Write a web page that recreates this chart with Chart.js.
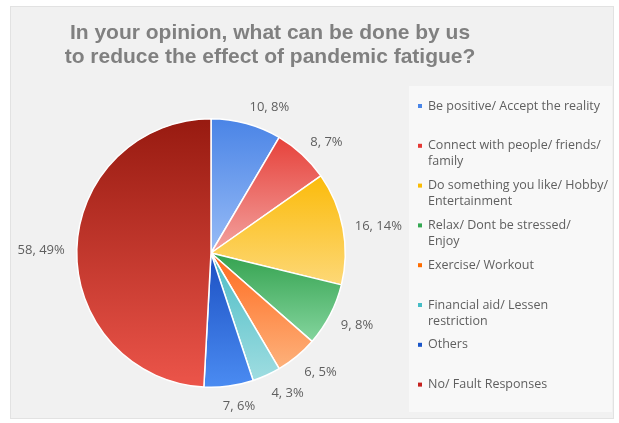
<!DOCTYPE html>
<html>
<head>
<meta charset="utf-8">
<script src="https://cdn.jsdelivr.net/npm/chart.js@4"></script>
<style>
  html, body { margin: 0; padding: 0; background: #fff; }
  #wrap { position: relative; width: 619px; height: 423px; }
</style>
</head>
<body>
<div id="wrap"><canvas id="pie"></canvas></div>
<script>
// ── Data ───────────────────────────────────────────────
const titleLines = [
  'In your opinion, what can be done by us',
  'to reduce the effect of pandemic fatigue?',
];

const categories = [
  ['Be positive/ Accept the reality'],
  ['Connect with people/ friends/', 'family'],
  ['Do something you like/ Hobby/', 'Entertainment'],
  ['Relax/ Dont be stressed/', 'Enjoy'],
  ['Exercise/ Workout'],
  ['Financial aid/ Lessen', 'restriction'],
  ['Others'],
  ['No/ Fault Responses'],
];

const counts = [10, 8, 16, 9, 6, 4, 7, 58];

// gradient ends for each slice (top → bottom)
const topColors    = ['#4a84e6', '#e6413a', '#fbbb0a', '#34a24f', '#ff6a1e', '#4bbcc5', '#1b4fc2', '#971a10'];
const bottomColors = ['#98bcf6', '#f3a3a0', '#fdd877', '#84d59e', '#fdb27c', '#9fdde1', '#4b8cf2', '#ec554a'];
const markerColors = ['#4a86e8', '#e53935', '#fbbc04', '#34a853', '#ff6d01', '#46bdc6', '#1a56c9', '#c5221f'];

const TITLE_FONT = '"Liberation Sans", Arial, sans-serif';
const BODY_FONT = '"Open Sans", "Liberation Sans", Arial, sans-serif';
const TEXT_GREY = '#5f5f5f';

// ── Helpers ────────────────────────────────────────────
const total = counts.reduce((a, b) => a + b, 0);

function sliceGradient(context) {
  const i = context.dataIndex;
  const chart = context.chart;
  const area = chart.chartArea;
  if (!area || i === undefined) return markerColors[i] || '#ccc';

  const cx = (area.left + area.right) / 2;
  const cy = (area.top + area.bottom) / 2;
  const r = Math.min(area.width, area.height) / 2;

  let before = 0;
  for (let k = 0; k < i; k++) before += counts[k];
  const a0 = -Math.PI / 2 + before / total * 2 * Math.PI;
  const a1 = a0 + counts[i] / total * 2 * Math.PI;

  const ys = [cy, cy + r * Math.sin(a0), cy + r * Math.sin(a1)];
  for (const t of [Math.PI / 2, 3 * Math.PI / 2]) {
    if (t > a0 && t < a1) ys.push(cy + r * Math.sin(t));
  }
  const y0 = Math.min(...ys), y1 = Math.max(...ys);
  const g = chart.ctx.createLinearGradient(0, y0, 0, y1);
  g.addColorStop(0, topColors[i]);
  g.addColorStop(1, bottomColors[i]);
  return g;
}

// panel + legend box + title behind everything
const backdrop = {
  id: 'backdrop',
  beforeDraw(chart) {
    const ctx = chart.ctx;
    ctx.save();
    ctx.fillStyle = '#ffffff';
    ctx.fillRect(0, 0, chart.width, chart.height);
    ctx.fillStyle = '#f1f1f1';
    ctx.fillRect(10, 6, 604, 413);
    ctx.strokeStyle = '#e2e2e2';
    ctx.lineWidth = 1;
    ctx.strokeRect(10.5, 6.5, 603, 412);
    ctx.fillStyle = '#f8f8f8';
    ctx.fillRect(409, 86, 203, 326);

    ctx.fillStyle = '#808080';
    ctx.font = 'bold 21px ' + TITLE_FONT;
    ctx.textAlign = 'center';
    ctx.textBaseline = 'middle';
    titleLines.forEach((t, j) => ctx.fillText(t, 270, 33 + j * 24));
    ctx.restore();
  },
};

// "n, p%" labels just outside each slice
const outsideLabels = {
  id: 'outsideLabels',
  afterDatasetsDraw(chart) {
    const ctx = chart.ctx;
    const meta = chart.getDatasetMeta(0);
    ctx.save();
    ctx.font = '13px ' + BODY_FONT;
    ctx.fillStyle = TEXT_GREY;
    ctx.textAlign = 'center';
    ctx.textBaseline = 'middle';
    const clamp = v => Math.max(-1, Math.min(1, v));
    meta.data.forEach((arc, i) => {
      const p = arc.getProps(['x', 'y', 'startAngle', 'endAngle', 'outerRadius'], true);
      const mid = (p.startAngle + p.endAngle) / 2;
      const dx = Math.cos(mid), dy = Math.sin(mid);
      const ax = p.x + dx * (p.outerRadius + 12);
      const ay = p.y + dy * (p.outerRadius + 12);
      const text = counts[i] + ', ' + Math.round(counts[i] / total * 100) + '%';
      const w = ctx.measureText(text).width;
      const h = 13;
      ctx.fillText(text, ax + w / 2 * clamp(dx * 4), ay + h / 2 * dy + 1.5);
    });
    ctx.restore();
  },
};

// legend on the right
const sideLegend = {
  id: 'sideLegend',
  afterDraw(chart) {
    const ctx = chart.ctx;
    ctx.save();
    ctx.font = '12.5px ' + BODY_FONT;
    ctx.textAlign = 'left';
    ctx.textBaseline = 'middle';
    chart.data.labels.forEach((lines, i) => {
      const y = 106 + i * 39.8;
      ctx.fillStyle = markerColors[i];
      ctx.fillRect(418, y - 2, 4, 4);
      ctx.fillStyle = TEXT_GREY;
      lines.forEach((ln, j) => ctx.fillText(ln, 428, y + j * 16));
    });
    ctx.restore();
  },
};

// ── Chart ──────────────────────────────────────────────
new Chart(document.getElementById('pie').getContext('2d'), {
  type: 'pie',
  data: {
    labels: categories,
    datasets: [{
      data: counts,
      backgroundColor: sliceGradient,
      borderColor: '#ffffff',
      borderWidth: 1.5,
    }],
  },
  options: {
    responsive: true,
    maintainAspectRatio: false,
    animation: false,
    events: [],
    layout: { padding: { left: 76, right: 273, top: 118, bottom: 35 } },
    plugins: {
      legend: { display: false },
      tooltip: { enabled: false },
      title: { display: false },
    },
  },
  plugins: [backdrop, outsideLabels, sideLegend],
});
</script>
</body>
</html>
